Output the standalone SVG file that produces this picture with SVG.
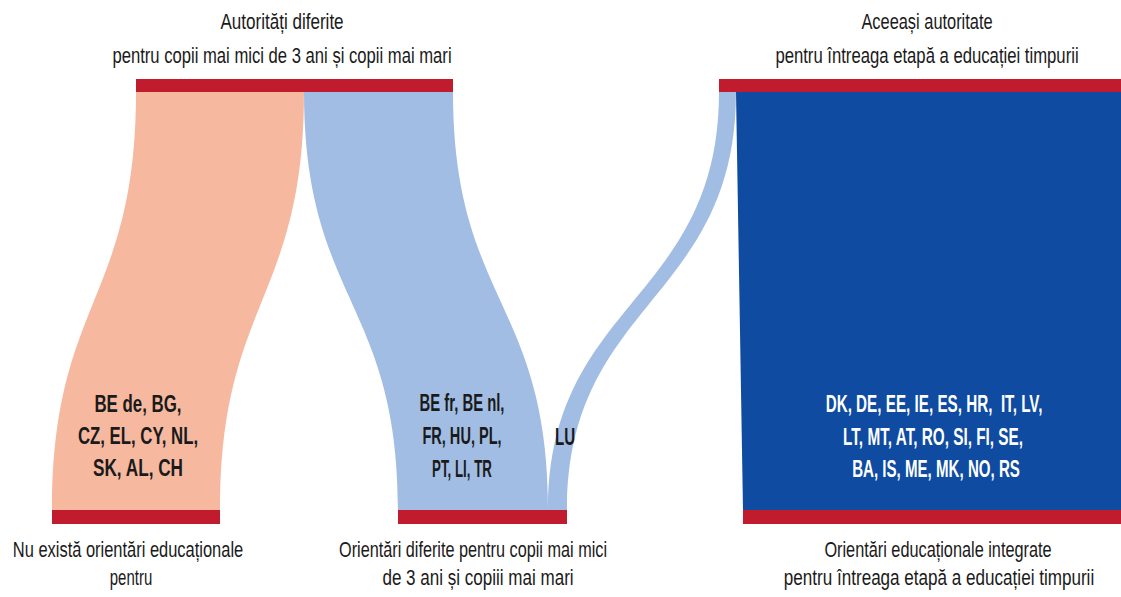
<svg xmlns="http://www.w3.org/2000/svg" width="1121" height="597" viewBox="0 0 1121 597">
<style>
.bar{fill:#c11b2e}
.t{font-family:"Liberation Sans",Arial,sans-serif;font-size:22px;fill:#1a1a1a;text-anchor:middle}
.b{font-family:"Liberation Sans",Arial,sans-serif;font-size:24px;font-weight:bold;fill:#1a1a1a;text-anchor:middle}
.w{fill:#ffffff}
.salmon{fill:#f6b9a0}
.lblue{fill:#a2bde3}
.dblue{fill:#0e4ba1}
</style>
<rect width="1121" height="597" fill="#ffffff"/>
<g id="connectors">
  <path class="salmon" d="M136,92 C136,301 52,301 52,510 L220,510 C220,301 304,301 304,92 Z"/>
  <path class="lblue" d="M304,92 C304,301 398,301 398,510 L548,510 C548,301 453,301 453,92 Z"/>
  <path class="lblue" d="M719,92 C719,301 548,301 548,510 L567,510 C567,301 736,301 736,92 Z"/>
  <path class="dblue" d="M736,92 L743,510 L1121,510 L1121,92 Z"/>
  <g id="flow-labels">
    <text class="b" transform="translate(138,412) scale(0.72,1)" textLength="121" lengthAdjust="spacingAndGlyphs">BE de, BG,</text>
    <text class="b" transform="translate(138,444) scale(0.72,1)" textLength="167" lengthAdjust="spacingAndGlyphs">CZ, EL, CY, NL,</text>
    <text class="b" transform="translate(138,476) scale(0.72,1)" textLength="125" lengthAdjust="spacingAndGlyphs">SK, AL, CH</text>
    <text class="b" transform="translate(462,411) scale(0.72,1)" textLength="118" lengthAdjust="spacingAndGlyphs">BE fr, BE nl,</text>
    <text class="b" transform="translate(462,444) scale(0.72,1)" textLength="110" lengthAdjust="spacingAndGlyphs">FR, HU, PL,</text>
    <text class="b" transform="translate(462,477) scale(0.72,1)" textLength="83" lengthAdjust="spacingAndGlyphs">PT, LI, TR</text>
    <text class="b" transform="translate(565,445) scale(0.72,1)" textLength="28" lengthAdjust="spacingAndGlyphs">LU</text>
    <text class="b w" transform="translate(934,412) scale(0.72,1)" textLength="301" lengthAdjust="spacingAndGlyphs" xml:space="preserve">DK, DE, EE, IE, ES, HR,  IT, LV,</text>
    <text class="b w" transform="translate(933,445) scale(0.72,1)" textLength="250" lengthAdjust="spacingAndGlyphs">LT, MT, AT, RO, SI, FI, SE,</text>
    <text class="b w" transform="translate(936,477) scale(0.72,1)" textLength="233" lengthAdjust="spacingAndGlyphs">BA, IS, ME, MK, NO, RS</text>
  </g>
</g>
<g id="node-top-different">
  <rect class="bar" x="136" y="79" width="317" height="13"/>
  <text class="t" transform="translate(282,29) scale(0.8,1)" textLength="154" lengthAdjust="spacingAndGlyphs">Autorități diferite</text>
  <text class="t" transform="translate(282,63) scale(0.8,1)" textLength="424" lengthAdjust="spacingAndGlyphs">pentru copii mai mici de 3 ani și copii mai mari</text>
</g>
<g id="node-top-same">
  <rect class="bar" x="719" y="79" width="402" height="13"/>
  <text class="t" transform="translate(927,29) scale(0.8,1)" textLength="164" lengthAdjust="spacingAndGlyphs">Aceeași autoritate</text>
  <text class="t" transform="translate(927,63) scale(0.8,1)" textLength="379" lengthAdjust="spacingAndGlyphs">pentru întreaga etapă a educației timpurii</text>
</g>
<g id="node-bottom-none">
  <rect class="bar" x="52" y="510" width="168" height="14"/>
  <text class="t" transform="translate(128,557) scale(0.8,1)" textLength="288" lengthAdjust="spacingAndGlyphs">Nu există orientări educaționale</text>
  <text class="t" transform="translate(131,585) scale(0.8,1)" textLength="53" lengthAdjust="spacingAndGlyphs">pentru</text>
</g>
<g id="node-bottom-different">
  <rect class="bar" x="398" y="510" width="169" height="14"/>
  <text class="t" transform="translate(473,557) scale(0.8,1)" textLength="335" lengthAdjust="spacingAndGlyphs">Orientări diferite pentru copii mai mici</text>
  <text class="t" transform="translate(478,585) scale(0.8,1)" textLength="239" lengthAdjust="spacingAndGlyphs">de 3 ani și copiii mai mari</text>
</g>
<g id="node-bottom-integrated">
  <rect class="bar" x="743" y="510" width="378" height="14"/>
  <text class="t" transform="translate(938,557) scale(0.8,1)" textLength="284" lengthAdjust="spacingAndGlyphs">Orientări educaționale integrate</text>
  <text class="t" transform="translate(939,585) scale(0.8,1)" textLength="388" lengthAdjust="spacingAndGlyphs">pentru întreaga etapă a educației timpurii</text>
</g>
</svg>
